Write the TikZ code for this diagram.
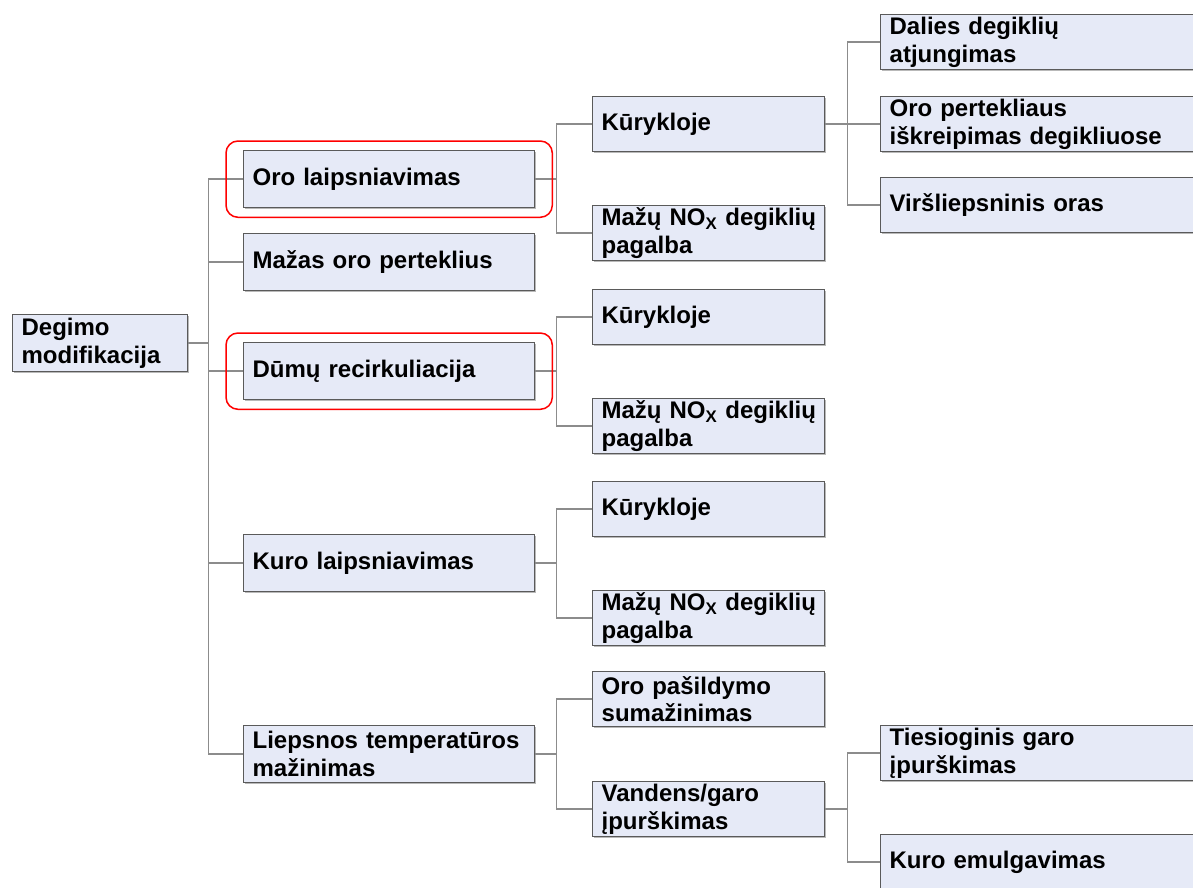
\documentclass[tikz,border=0pt]{standalone}
\usepackage{fontspec}
\setmainfont{Liberation Sans}
\usetikzlibrary{calc, fit, shadows}

\definecolor{boxfill}{HTML}{E6EAF7}
\definecolor{boxline}{HTML}{5A5A5A}
\definecolor{linkgray}{HTML}{8C8C8C}

\tikzset{
  box/.style={draw=boxline, line width=1.3pt, fill=boxfill, anchor=north west,
    inner xsep=9pt, inner ysep=0pt, align=left, minimum height=57pt,
    font=\fontsize{24}{27.5}\selectfont\bfseries,
    general shadow={fill=gray!55, shadow xshift=1.5pt, shadow yshift=-1.5pt}},
  rootbox/.style={box, text width=157pt},
  firstbox/.style={box, text width=273pt},
  secondbox/.style={box, text width=214pt, minimum height=55pt},
  thirdbox/.style={box, text width=312pt, minimum height=55pt},
  link/.style={draw=linkgray, line width=1.4pt},
  redframe/.style={draw=red, line width=1.5pt, rounded corners=12pt,
    inner xsep=17pt, inner ysep=9pt}
}

\begin{document}
\begin{tikzpicture}[x=1pt, y=-1pt]
                \useasboundingbox (0,0) rectangle (1193,888);
                % Root
                \node[rootbox] (root) at (12,314) {Degimo\\modifikacija};
                % First level
                \node[firstbox] (air) at (243,150) {Oro laipsniavimas};
                \node[firstbox] (excess) at (243,233) {Mažas oro perteklius};
                \node[firstbox] (flue) at (243,342) {Dūmų recirkuliacija};
                \node[firstbox] (fuel) at (243,534) {Kuro laipsniavimas};
                \node[firstbox] (flame) at (243,725) {Liepsnos temperatūros\\mažinimas};
                % Second level
                \node[secondbox] (airfurn) at (592,96) {Kūrykloje};
                \node[secondbox] (airburn) at (592,205) {\mbox{Mažų NO\textsubscript{X} degiklių}\\pagalba};
                \node[secondbox] (fluefurn) at (592,289) {Kūrykloje};
                \node[secondbox] (flueburn) at (592,398) {\mbox{Mažų NO\textsubscript{X} degiklių}\\pagalba};
                \node[secondbox] (fuelfurn) at (592,481) {Kūrykloje};
                \node[secondbox] (fuelburn) at (592,590) {\mbox{Mažų NO\textsubscript{X} degiklių}\\pagalba};
                \node[secondbox] (preheat) at (592,671) {Oro pašildymo\\sumažinimas};
                \node[secondbox] (water) at (592,781) {Vandens/garo\\įpurškimas};
                % Third level
                \node[thirdbox] (part) at (880,14) {Dalies degiklių\\atjungimas};
                \node[thirdbox] (bias) at (880,96) {Oro pertekliaus\\iškreipimas degikliuose};
                \node[thirdbox] (over) at (880,177) {Viršliepsninis oras};
                \node[thirdbox] (steam) at (880,725) {Tiesioginis garo\\įpurškimas};
                \node[thirdbox] (emul) at (880,834) {Kuro emulgavimas};
                % Connectors
                \coordinate (trunk) at ($(root.east)+(20,0)$);
                \draw[link] (root.east) -- (trunk);
                \draw[link] (air.west) -| (trunk) |- (flame.west);
                \foreach \n in {excess, flue, fuel}
                  \draw[link] (trunk |- \n.west) -- (\n.west);
                \foreach \p/\a/\b in {air/airfurn/airburn, flue/fluefurn/flueburn,
                                      fuel/fuelfurn/fuelburn, flame/preheat/water} {
                  \coordinate (\p-fork) at ($(\p.east)+(21,0)$);
                  \draw[link] (\p.east) -- (\p-fork);
                  \draw[link] (\a.west) -| (\p-fork) |- (\b.west);
                }
                \coordinate (furn-fork) at ($(airfurn.east)+(22,0)$);
                \draw[link] (airfurn.east) -- (bias.west);
                \draw[link] (part.west) -| (furn-fork) |- (over.west);
                \coordinate (water-fork) at ($(water.east)+(22,0)$);
                \draw[link] (water.east) -- (water-fork);
                \draw[link] (steam.west) -| (water-fork) |- (emul.west);
                % Highlights
                \node[redframe, fit=(air)] (airframe) {};
                \node[redframe, fit=(flue)] (flueframe) {};
            \end{tikzpicture}
\end{document}
